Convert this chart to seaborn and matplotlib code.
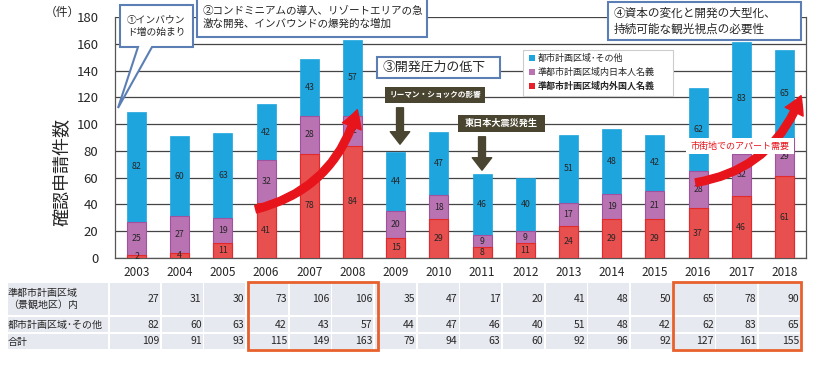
import numpy as np
import pandas as pd
import matplotlib
matplotlib.use('Agg')
import matplotlib.pyplot as plt
import seaborn as sns
from matplotlib.patches import Rectangle, Polygon, FancyArrowPatch
from matplotlib.transforms import Affine2D

# データ
years = [str(y) for y in range(2003, 2019)]
foreign = [2, 4, 11, 41, 78, 84, 15, 29, 8, 11, 24, 29, 29, 37, 46, 61]
japanese = [25, 27, 19, 32, 28, 22, 20, 18, 9, 9, 17, 19, 21, 28, 32, 29]
other = [82, 60, 63, 42, 43, 57, 44, 47, 46, 40, 51, 48, 42, 62, 83, 65]
series_names = ['都市計画区域･その他', '準都市計画区域内日本人名義', '準都市計画区域内外国人名義']
row_labels = ['準都市計画区域\n（景観地区）内', '都市計画区域･その他', '合計']

df = pd.DataFrame({'year': years, 'foreign': foreign, 'japanese': japanese, 'other': other})
df['quasi'] = df['foreign'] + df['japanese']
df['total'] = df['quasi'] + df['other']

BLUE = '#1fa5de'
PURPLE = '#b973b3'
RED = '#e84f4f'
FRAME = '#5b7fb5'
OLIVE = '#4a4530'

sns.set_style('white')
plt.rcParams['font.family'] = ['Noto Sans CJK JP', 'DejaVu Sans']

W, H = 819, 366
fig = plt.figure(figsize=(W / 100, H / 100), dpi=100)
# ピクセル座標 (左上原点)
pix = Affine2D().scale(1 / W, -1 / H).translate(0, 1) + fig.transFigure

ax_l, ax_r, ax_t, ax_b = 115, 806, 17, 258
ax = fig.add_axes([ax_l / W, 1 - ax_b / H, (ax_r - ax_l) / W, (ax_b - ax_t) / H])

bw = 0.44
sns.barplot(data=df, x='year', y='total', color=BLUE, width=bw, edgecolor=BLUE, linewidth=0.5,
            saturation=1, errorbar=None, ax=ax, zorder=3)
sns.barplot(data=df, x='year', y='quasi', color=PURPLE, width=bw, edgecolor='#a0529e', linewidth=0.8,
            saturation=1, errorbar=None, ax=ax, zorder=3)
sns.barplot(data=df, x='year', y='foreign', color=RED, width=bw, edgecolor='#e32a2a', linewidth=0.8,
            saturation=1, errorbar=None, ax=ax, zorder=3)

for i, r in df.iterrows():
    ax.text(i, r['foreign'] / 2, str(r['foreign']), ha='center', va='center', fontsize=6.3, zorder=4)
    ax.text(i, r['foreign'] + r['japanese'] / 2, str(r['japanese']), ha='center', va='center', fontsize=6.3, zorder=4)
    ax.text(i, r['quasi'] + r['other'] / 2, str(r['other']), ha='center', va='center', fontsize=6.3, zorder=4)

ax.set_ylim(0, 180)
ax.set_xlim(-0.5, len(years) - 0.5)
ax.set_yticks(range(0, 181, 20))
ax.yaxis.grid(True, color='#444444', linewidth=0.9, zorder=0)
ax.xaxis.grid(False)
ax.set_axisbelow(True)
ax.tick_params(axis='y', labelsize=9.5, length=0, pad=12)
ax.tick_params(axis='x', labelsize=8.5, length=0, pad=6)
ax.set_xticks(np.arange(-0.5, len(years), 1), minor=True)
ax.tick_params(axis='x', which='minor', length=3, color='#666666', direction='out')
ax.set_xlabel('')
ax.set_ylabel('')
for s in ax.spines.values():
    s.set_color('#555555')
    s.set_linewidth(0.9)
ax.spines['top'].set_visible(False)

fig.text(63 / W, 1 - 172 / H, '確認申請件数', rotation=90, ha='center', va='center', fontsize=13)
fig.text(62 / W, 1 - 12 / H, '（件）', ha='center', va='center', fontsize=8.5)

# 表
colw = 42.67
rows_y = [(283, 315), (317, 332), (334, 349)]
row_vals = [df['quasi'], df['other'], df['total']]
TBG = '#e6e9f0'
for (y0, y1), lab, vals in zip(rows_y, row_labels, row_vals):
    fig.add_artist(Rectangle((8, y0), 100, y1 - y0, transform=pix, facecolor=TBG, edgecolor='none'))
    fig.text(8 / W, 1 - (y0 + y1) / 2 / H, lab, ha='left', va='center', fontsize=7.2, linespacing=1.2)
    for j, v in enumerate(vals):
        right = 160 + j * colw
        left = 110 if j == 0 else right - colw + 1.5
        fig.add_artist(Rectangle((left, y0), right - left, y1 - y0, transform=pix, facecolor=TBG, edgecolor='none'))
        fig.text((right - 1) / W, 1 - (y0 + y1) / 2 / H, str(v), ha='right', va='center', fontsize=7.5)
for x0, x1 in [(248, 378), (673, 801)]:
    fig.add_artist(Rectangle((x0, 282), x1 - x0, 68, transform=pix, facecolor='none', edgecolor='#e8602c', lw=2))

# 凡例
fig.add_artist(Rectangle((523, 50), 150, 46, transform=pix, facecolor='white', edgecolor='#cccccc', lw=0.8, zorder=5))
for k, (name, c) in enumerate(zip(series_names, [BLUE, PURPLE, '#e8202a'])):
    yy = 58 + k * 14
    fig.add_artist(Rectangle((529, yy - 3), 6, 6, transform=pix, facecolor=c, edgecolor='none', zorder=6))
    fig.text(538 / W, 1 - yy / H, name, ha='left', va='center', fontsize=6.5, zorder=6,
             fontweight='bold' if k == 2 else 'normal')

# 注釈ボックス
fig.add_artist(Polygon([(120, 5), (193, 5), (193, 47), (152, 47), (118, 108), (138, 47), (120, 47)],
                       closed=True, transform=pix, facecolor='white', edgecolor=FRAME, lw=1.5, zorder=5))
fig.text(127 / W, 1 - 26 / H, '①インバウン\nド増の始まり', ha='left', va='center', fontsize=7, zorder=6, linespacing=1.3)

def box(x0, y0, x1, y1, txt, fs):
    fig.add_artist(Rectangle((x0, y0), x1 - x0, y1 - y0, transform=pix, facecolor='white', edgecolor=FRAME, lw=1.5, zorder=5))
    fig.text((x0 + 6) / W, 1 - (y0 + y1) / 2 / H, txt, ha='left', va='center', fontsize=fs, zorder=6, linespacing=1.25)

box(197, -2, 427, 37, '②コンドミニアムの導入、リゾートエリアの急\n激な開発、インバウンドの爆発的な増加', 7.6)
box(377, 57, 500, 78, '③開発圧力の低下', 9.3)
box(608, 2, 801, 40, '④資本の変化と開発の大型化、\n持続可能な観光視点の必要性', 8.4)

# 出来事ラベル
for x0, y0, x1, y1, txt, fs, ax_x, a0, a1 in [(385, 87, 485, 103, 'リーマン・ショックの影響', 5.5, 400, 105, 147),
                                             (458, 115, 545, 132, '東日本大震災発生', 6.6, 482, 134, 173)]:
    fig.add_artist(Rectangle((x0, y0), x1 - x0, y1 - y0, transform=pix, facecolor=OLIVE, edgecolor='none', zorder=5))
    fig.text((x0 + x1) / 2 / W, 1 - (y0 + y1) / 2 / H, txt, ha='center', va='center', color='white',
             fontsize=fs, fontweight='bold', zorder=6)
    fig.add_artist(FancyArrowPatch((ax_x, a0), (ax_x, a1), transform=pix, color=OLIVE, zorder=5,
                                   arrowstyle='simple,tail_width=0.5,head_width=1.4,head_length=0.9', mutation_scale=10))

# 赤い矢印
for p0, p1 in [((253, 210), (358, 107)), ((693, 183), (802, 93))]:
    fig.add_artist(FancyArrowPatch(p0, p1, transform=pix, color='#e8141c', zorder=7,
                                   connectionstyle='arc3,rad=0.3',
                                   arrowstyle='simple,tail_width=0.6,head_width=1.6,head_length=1.4', mutation_scale=9))
fig.add_artist(Rectangle((686, 138), 108, 16, transform=pix, facecolor='white', edgecolor='none', zorder=8))
fig.text(740 / W, 1 - 146 / H, '市街地でのアパート需要', ha='center', va='center', color='#e8141c', fontsize=6.5, zorder=9)

fig.savefig('out.png', dpi=100)
